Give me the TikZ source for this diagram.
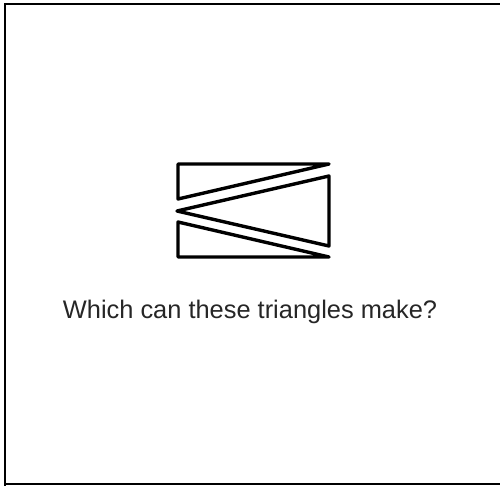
\documentclass[tikz,border=0pt]{standalone}
\usepackage{fontspec}
\setmainfont{Liberation Sans}
\begin{document}
\begin{tikzpicture}[x=1pt,y=-1pt,
  tri/.style={line width=3.4pt,line join=round,draw=black},
  frame/.style={line width=2pt,draw=black},
  caption/.style={font=\fontsize{25.4}{30}\selectfont,text=black!85,inner sep=0pt,anchor=base}]
\useasboundingbox (0,0) rectangle (500,485);
\draw[frame] (5,504) -- (5,4) -- (510,4);
\draw[frame] (5,484) -- (510,484);
\draw[tri] (178,164) -- (329,164) -- (178,199) -- cycle;
\draw[tri] (177,211) -- (329,176) -- (329,246) -- cycle;
\draw[tri] (178,222) -- (329,257) -- (178,257) -- cycle;
\node[caption] (q) at (250,318) {Which can these triangles make?};
\end{tikzpicture}
\end{document}
